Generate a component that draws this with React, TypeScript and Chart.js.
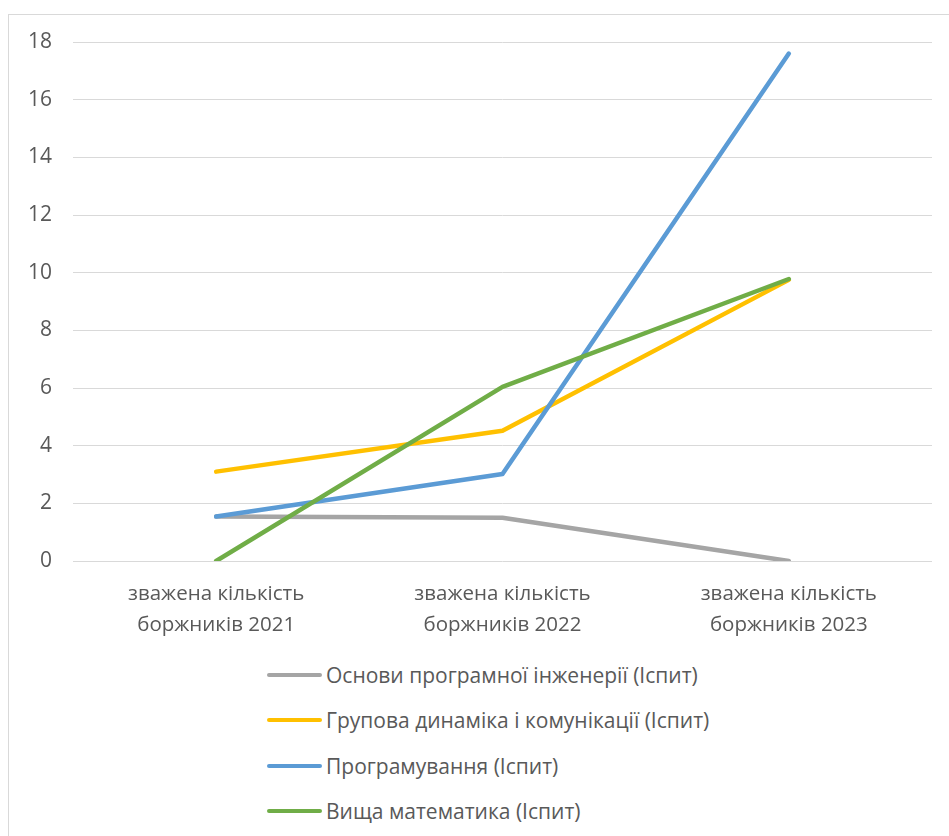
import React, { useEffect, useRef } from "react";
import { Chart, registerables } from "chart.js";

Chart.register(...registerables);

const categories: string[][] = [
  ["зважена кількість", "боржників 2021"],
  ["зважена кількість", "боржників 2022"],
  ["зважена кількість", "боржників 2023"],
];

const seriesNames: string[] = [
  "Основи програмної інженерії (Іспит)",
  "Групова динаміка і комунікації (Іспит)",
  "Програмування (Іспит)",
  "Вища математика (Іспит)",
];

const osnovyValues: number[] = [1.54, 1.5, 0];
const hrupovaValues: number[] = [3.1, 4.52, 9.75];
const prohramuvanniaValues: number[] = [1.54, 3.02, 17.6];
const matematykaValues: number[] = [0, 6.04, 9.78];

const seriesColors: string[] = ["#A5A5A5", "#FFC000", "#5B9BD5", "#70AD47"];

const yMin = 0;
const yMax = 18;
const yStep = 2;

const FONT = "'Open Sans', 'Noto Sans', sans-serif";
const TEXT = "#595959";

export default function App() {
  const canvasRef = useRef<HTMLCanvasElement | null>(null);

  useEffect(() => {
    const canvas = canvasRef.current;
    if (!canvas) return;
    const values = [osnovyValues, hrupovaValues, prohramuvanniaValues, matematykaValues];
    const chart = new Chart(canvas, {
      type: "line",
      data: {
        labels: categories,
        datasets: values.map((v, i) => ({
          label: seriesNames[i],
          data: v,
          borderColor: seriesColors[i],
          backgroundColor: seriesColors[i],
          borderWidth: 4.5,
          borderCapStyle: "round" as const,
          borderJoinStyle: "round" as const,
          pointRadius: 0,
          pointHoverRadius: 0,
          tension: 0,
          fill: false,
          order: values.length - i,
        })),
      },
      options: {
        responsive: false,
        animation: false,
        events: [],
        layout: { padding: { top: 42, right: 17, bottom: 9, left: 0 } },
        plugins: {
          legend: { display: false },
          tooltip: { enabled: false },
          title: { display: false },
        },
        scales: {
          x: {
            offset: true,
            grid: { display: false },
            border: { display: false },
            ticks: {
              color: TEXT,
              font: { family: FONT, size: 20.5, lineHeight: 1.5 },
              padding: 10,
              maxRotation: 0,
              autoSkip: false,
            },
            afterFit: (scale: any) => {
              scale.height = 80;
            },
          },
          y: {
            min: yMin,
            max: yMax,
            grid: { color: "#D9D9D9", lineWidth: 1, drawTicks: false },
            border: { display: false },
            ticks: {
              stepSize: yStep,
              color: TEXT,
              font: { family: FONT, size: 21 },
              padding: 21,
            },
            afterFit: (scale: any) => {
              scale.width = 73;
            },
          },
        },
      },
    });
    return () => chart.destroy();
  }, []);

  return (
    <div style={{ position: "absolute", left: 0, top: 0, width: 949, height: 836, overflow: "hidden", background: "#fff" }}>
      <div
        style={{
          position: "absolute",
          left: 8,
          top: 14,
          width: 960,
          height: 840,
          border: "1px solid #D9D9D9",
          boxSizing: "border-box",
        }}
      />
      <canvas ref={canvasRef} width={949} height={650} style={{ position: "absolute", left: 0, top: 0 }} />
      <div style={{ position: "absolute", left: 267, top: 0 }}>
        {seriesNames.map((name, i) => (
          <div
            key={name}
            style={{
              position: "absolute",
              left: 0,
              top: [675, 720, 766, 811][i] - 15,
              height: 30,
              display: "flex",
              alignItems: "center",
              whiteSpace: "nowrap",
              fontFamily: FONT,
              fontSize: 21,
              color: TEXT,
            }}
          >
            <span
              style={{
                display: "inline-block",
                width: 55,
                height: 4.5,
                borderRadius: 3,
                background: seriesColors[i],
                marginRight: 4,
              }}
            />
            <span>{name}</span>
          </div>
        ))}
      </div>
    </div>
  );
}
